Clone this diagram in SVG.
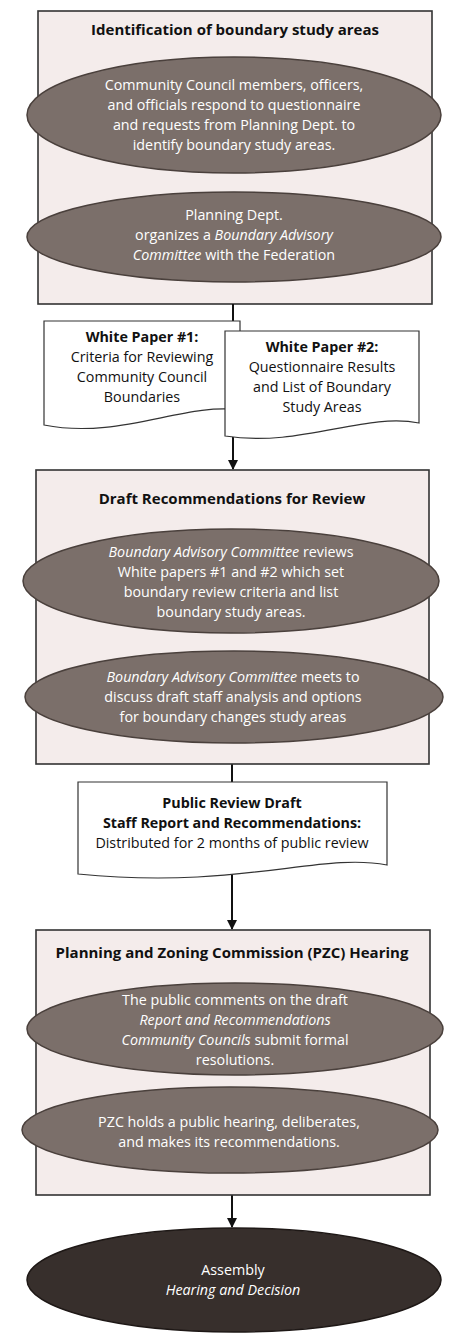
<svg xmlns="http://www.w3.org/2000/svg" width="473" height="1343" viewBox="0 0 473 1343">
<defs>
<marker id="ah" viewBox="0 0 10 10" refX="9" refY="5" markerWidth="5" markerHeight="5" orient="auto" markerUnits="strokeWidth">
<path d="M0,0 L10,5 L0,10 Z" fill="#111"/>
</marker>
</defs>
<style>
.box{fill:#f4eceb;stroke:#333;stroke-width:1.6}
.ell{fill:#7b6f6a;stroke:#4a403c;stroke-width:1.5}
.dark{fill:#372f2c;stroke:#1e1816;stroke-width:1.5}
.doc{fill:#fff;stroke:#333;stroke-width:1.2}
.t{font-family:"Open Sans","Liberation Sans",sans-serif;text-anchor:middle}
.title{font-size:15px;font-weight:bold;fill:#111}
.et{font-size:14.3px;fill:#fff}
.dt{font-size:14.3px;fill:#111}
.b{font-weight:bold}
.i{font-style:italic}
.c{stroke:#111;stroke-width:2;fill:none}
</style>
<rect width="473" height="1343" fill="#fff"/>

<g id="stage1">
<rect class="box" x="38" y="11" width="394" height="293"/>
<text class="t title" x="235" y="35">Identification of boundary study areas</text>
</g>
<g id="n1">
<ellipse class="ell" cx="234" cy="115" rx="207" ry="58"/>
<text class="t et" x="234" y="90">Community Council members, officers,</text>
<text class="t et" x="234" y="110">and officials respond to questionnaire</text>
<text class="t et" x="234" y="130">and requests from Planning Dept. to</text>
<text class="t et" x="234" y="150">identify boundary study areas.</text>
</g>
<g id="n2">
<ellipse class="ell" cx="234" cy="237" rx="207" ry="45"/>
<text class="t et" x="234" y="220">Planning Dept.</text>
<text class="t et" x="234" y="240">organizes a <tspan class="i">Boundary Advisory</tspan></text>
<text class="t et" x="234" y="260"><tspan class="i">Committee</tspan> with the Federation</text>
</g>

<g id="connectors">
<line class="c" x1="233" y1="304" x2="233" y2="321"/>
<line class="c" x1="233" y1="436" x2="233" y2="469" marker-end="url(#ah)"/>
<line class="c" x1="232" y1="764" x2="232" y2="782"/>
<line class="c" x1="232" y1="870" x2="232" y2="929" marker-end="url(#ah)"/>
<line class="c" x1="232" y1="1195" x2="232" y2="1227" marker-end="url(#ah)"/>
</g>

<g id="doc1">
<path class="doc" d="M44,321 H240 V410 C185,402 120,440 44,425 Z"/>
<text class="t dt b" x="142" y="342">White Paper #1:</text>
<text class="t dt" x="142" y="362">Criteria for Reviewing</text>
<text class="t dt" x="142" y="382">Community Council</text>
<text class="t dt" x="142" y="402">Boundaries</text>
</g>
<g id="doc2">
<path class="doc" d="M225,331 H419 V423 C365,412 300,448 225,436 Z"/>
<text class="t dt b" x="322" y="352">White Paper #2:</text>
<text class="t dt" x="322" y="372">Questionnaire Results</text>
<text class="t dt" x="322" y="392">and List of Boundary</text>
<text class="t dt" x="322" y="412">Study Areas</text>
</g>

<g id="stage2">
<rect class="box" x="36" y="470" width="393" height="294"/>
<text class="t title" x="232" y="504">Draft Recommendations for Review</text>
</g>
<g id="n3">
<ellipse class="ell" cx="231" cy="581" rx="208" ry="52"/>
<text class="t et" x="231" y="557"><tspan class="i">Boundary Advisory Committee</tspan> reviews</text>
<text class="t et" x="231" y="577">White papers #1 and #2 which set</text>
<text class="t et" x="231" y="597">boundary review criteria and list</text>
<text class="t et" x="231" y="617">boundary study areas.</text>
</g>
<g id="n4">
<ellipse class="ell" cx="234" cy="697" rx="209" ry="46"/>
<text class="t et" x="233" y="682"><tspan class="i">Boundary Advisory Committee</tspan> meets to</text>
<text class="t et" x="233" y="702">discuss draft staff analysis and options</text>
<text class="t et" x="233" y="722">for boundary changes study areas</text>
</g>

<g id="doc3">
<path class="doc" d="M78,782 H387 V865 C320,852 240,890 78,874 Z"/>
<text class="t dt b" x="232" y="808">Public Review Draft</text>
<text class="t dt b" x="232" y="828">Staff Report and Recommendations:</text>
<text class="t dt" x="232" y="848">Distributed for 2 months of public review</text>
</g>

<g id="stage3">
<rect class="box" x="36" y="930" width="394" height="265"/>
<text class="t title" x="232" y="958">Planning and Zoning Commission (PZC) Hearing</text>
</g>
<g id="n5">
<ellipse class="ell" cx="235" cy="1029" rx="208" ry="46"/>
<text class="t et" x="235" y="1005">The public comments on the draft</text>
<text class="t et" x="235" y="1025"><tspan class="i">Report and Recommendations</tspan></text>
<text class="t et" x="235" y="1045"><tspan class="i">Community Councils</tspan> submit formal</text>
<text class="t et" x="235" y="1065">resolutions.</text>
</g>
<g id="n6">
<ellipse class="ell" cx="230" cy="1130" rx="208" ry="43"/>
<text class="t et" x="229" y="1127">PZC holds a public hearing, deliberates,</text>
<text class="t et" x="229" y="1147">and makes its recommendations.</text>
</g>
<g id="n7">
<ellipse class="dark" cx="234" cy="1280" rx="207" ry="52"/>
<text class="t et" x="233" y="1275">Assembly</text>
<text class="t et i" x="233" y="1295">Hearing and Decision</text>
</g>
</svg>
